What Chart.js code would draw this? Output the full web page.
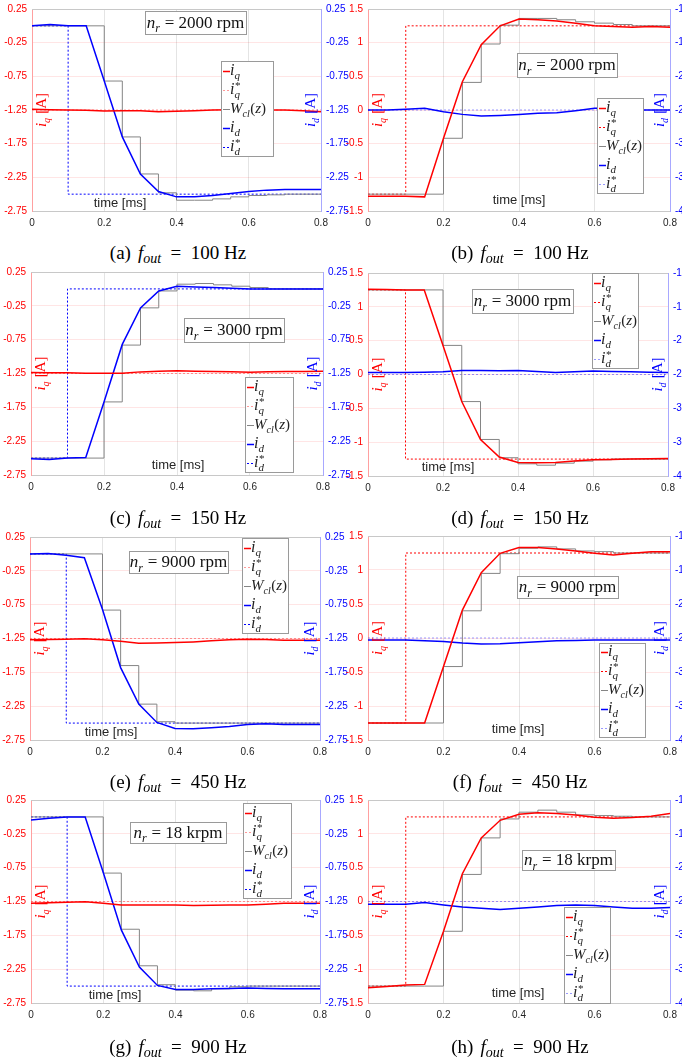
<!DOCTYPE html>
<html>
<head>
<meta charset="utf-8">
<script src="https://cdn.jsdelivr.net/npm/chart.js@4.4.1/dist/chart.umd.min.js"></script>
<style>
  html, body { margin: 0; padding: 0; background: #fff; }
  body { position: relative; width: 682px; height: 1059px; overflow: hidden; }
  canvas { position: absolute; }
  .cap { position: absolute; font-family: "Liberation Serif", serif; font-size: 19px; line-height: 20px;
         color: #000; white-space: nowrap; transform: translateX(-50%); }
  .cap sub { font-size: 14px; vertical-align: -4px; line-height: 0; }
  .cap .sp { display: inline-block; width: 7px; }
</style>
</head>
<body>
<script>
// sample instants of the controller (ms)
const timeSteps = [0, 0.05, 0.1, 0.15, 0.2, 0.25, 0.3, 0.35, 0.4, 0.45, 0.5, 0.55, 0.6, 0.65, 0.7, 0.75, 0.8];
const refTimes = [0, 0.1, 0.1, 0.8];
const timeTicks = [0, 0.2, 0.4, 0.6, 0.8];
const ticksLeftCol = [0.25, -0.25, -0.75, -1.25, -1.75, -2.25, -2.75];
const ticksIq = [1.5, 1, 0.5, 0, -0.5, -1, -1.5];
const ticksId = [-1, -1.5, -2, -2.5, -3, -3.5, -4];

// references
const iqHold = [-1.25, -1.25, -1.25, -1.25];
const iqRise = [-1.25, -1.25, 1.25, 1.25];
const iqFall = [1.25, 1.25, -1.25, -1.25];
const idHold = [-2.5, -2.5, -2.5, -2.5];
const idFall = [0, 0, -2.5, -2.5];
const idRise = [-2.5, -2.5, 0, 0];

// (a) 100 Hz, 2000 rpm, d-axis step
const aIq = [-1.24, -1.245, -1.25, -1.255, -1.265, -1.26, -1.26, -1.275, -1.27, -1.26, -1.25, -1.245, -1.245, -1.25, -1.25, -1.26, -1.275];
const aW  = [0, 0, 0, 0, -0.82, -1.65, -2.2, -2.48, -2.59, -2.59, -2.57, -2.54, -2.52, -2.51, -2.5, -2.5, -2.5];
const aId = [0, 0.02, 0, 0, -0.82, -1.65, -2.2, -2.46, -2.54, -2.54, -2.52, -2.49, -2.46, -2.44, -2.43, -2.43, -2.43];
// (b) 100 Hz, 2000 rpm, q-axis step
const bIq = [-1.28, -1.28, -1.28, -1.29, -0.42, 0.42, 0.97, 1.25, 1.35, 1.34, 1.32, 1.29, 1.25, 1.24, 1.23, 1.24, 1.23];
const bW  = [-1.25, -1.25, -1.25, -1.25, -0.42, 0.41, 0.98, 1.26, 1.36, 1.36, 1.34, 1.31, 1.29, 1.27, 1.25, 1.25, 1.25];
const bId = [-2.5, -2.5, -2.49, -2.475, -2.525, -2.565, -2.59, -2.58, -2.565, -2.55, -2.54, -2.51, -2.475, -2.47, -2.5, -2.5, -2.5];
// (c) 150 Hz, 3000 rpm
const cIq = [-1.235, -1.24, -1.24, -1.245, -1.245, -1.245, -1.226, -1.215, -1.21, -1.215, -1.22, -1.225, -1.23, -1.225, -1.22, -1.22, -1.216];
const cW  = [-2.5, -2.5, -2.5, -2.5, -1.67, -0.83, -0.28, -0.03, 0.07, 0.08, 0.06, 0.04, 0.02, 0, 0, 0, 0];
const cId = [-2.51, -2.52, -2.5, -2.49, -1.67, -0.82, -0.28, -0.03, 0.04, 0.03, 0.02, 0.01, 0, 0, 0, 0, 0];
// (d) 150 Hz, 3000 rpm
const dIq = [1.26, 1.255, 1.25, 1.25, 0.43, -0.4, -0.96, -1.22, -1.3, -1.305, -1.3, -1.28, -1.26, -1.255, -1.25, -1.245, -1.24];
const dW  = [1.25, 1.25, 1.25, 1.25, 0.43, -0.4, -0.96, -1.23, -1.32, -1.34, -1.31, -1.28, -1.26, -1.25, -1.25, -1.25, -1.25];
const dId = [-2.47, -2.47, -2.47, -2.465, -2.46, -2.44, -2.44, -2.445, -2.44, -2.455, -2.47, -2.46, -2.45, -2.455, -2.46, -2.465, -2.47];
// (e) 450 Hz, 9000 rpm
const eIq = [-1.27, -1.265, -1.26, -1.255, -1.27, -1.29, -1.32, -1.315, -1.31, -1.3, -1.285, -1.27, -1.26, -1.265, -1.275, -1.275, -1.275];
const eW  = [0, 0, 0, 0, -0.83, -1.65, -2.22, -2.48, -2.5, -2.5, -2.5, -2.5, -2.5, -2.5, -2.5, -2.5, -2.5];
const eId = [0, 0.005, -0.02, -0.055, -0.82, -1.68, -2.22, -2.49, -2.58, -2.585, -2.57, -2.55, -2.52, -2.51, -2.52, -2.52, -2.52];
// (f) 450 Hz, 9000 rpm
const fIq = [-1.25, -1.25, -1.25, -1.25, -0.42, 0.41, 0.96, 1.245, 1.33, 1.33, 1.31, 1.28, 1.245, 1.22, 1.245, 1.27, 1.27];
const fW  = [-1.25, -1.25, -1.25, -1.25, -0.42, 0.4, 0.95, 1.24, 1.32, 1.34, 1.31, 1.28, 1.27, 1.25, 1.25, 1.25, 1.25];
const fId = [-2.53, -2.53, -2.53, -2.54, -2.55, -2.575, -2.59, -2.585, -2.57, -2.555, -2.54, -2.535, -2.53, -2.53, -2.53, -2.53, -2.53];
// (g) 900 Hz, 18 krpm
const gIq = [-1.275, -1.27, -1.26, -1.255, -1.275, -1.3, -1.3, -1.3, -1.3, -1.31, -1.305, -1.3, -1.3, -1.29, -1.275, -1.275, -1.275];
const gW  = [0, 0, 0, 0, -0.83, -1.66, -2.2, -2.48, -2.56, -2.57, -2.54, -2.51, -2.5, -2.5, -2.5, -2.5, -2.5];
const gId = [-0.045, -0.02, 0, 0, -0.82, -1.67, -2.22, -2.49, -2.55, -2.55, -2.54, -2.535, -2.53, -2.535, -2.54, -2.54, -2.54];
// (h) 900 Hz, 18 krpm
const hIq = [-1.275, -1.255, -1.235, -1.225, -0.44, 0.41, 0.94, 1.2, 1.29, 1.31, 1.3, 1.28, 1.245, 1.23, 1.24, 1.26, 1.3];
const hW  = [-1.25, -1.25, -1.25, -1.25, -0.44, 0.4, 0.94, 1.22, 1.32, 1.35, 1.32, 1.28, 1.27, 1.26, 1.25, 1.25, 1.25];
const hId = [-2.54, -2.54, -2.54, -2.515, -2.55, -2.58, -2.6, -2.62, -2.6, -2.58, -2.56, -2.55, -2.56, -2.58, -2.6, -2.6, -2.59];

const panels = [
  { tag: "(a)", freq: "100", speed: "2000 rpm", col: 0, iq: aIq, iqRef: iqHold, w: aW, id: aId, idRef: idFall,
    area: [32, 321, 9, 211], nrBox: [145, 11, 101, 23], legBox: [221, 61, 52, 95], timeAt: [120, 203], capY: 253 },
  { tag: "(b)", freq: "100", speed: "2000 rpm", col: 1, iq: bIq, iqRef: iqRise, w: bW, id: bId, idRef: idHold,
    area: [368, 670, 9, 211], nrBox: [517, 53, 100, 24], legBox: [597, 98, 46, 95], timeAt: [519, 200], capY: 253 },
  { tag: "(c)", freq: "150", speed: "3000 rpm", col: 0, iq: cIq, iqRef: iqHold, w: cW, id: cId, idRef: idRise,
    area: [31, 323, 272, 475], nrBox: [184, 318, 100, 24], legBox: [245, 377, 48, 95], timeAt: [178, 465], capY: 518 },
  { tag: "(d)", freq: "150", speed: "3000 rpm", col: 1, iq: dIq, iqRef: iqFall, w: dW, id: dId, idRef: idHold,
    area: [368, 668, 273, 476], nrBox: [472, 289, 101, 24], legBox: [592, 273, 46, 95], timeAt: [448, 467], capY: 518 },
  { tag: "(e)", freq: "450", speed: "9000 rpm", col: 0, iq: eIq, iqRef: iqHold, w: eW, id: eId, idRef: idFall,
    area: [30, 320, 537, 740], nrBox: [129, 551, 99, 22], legBox: [242, 538, 46, 95], timeAt: [111, 732], capY: 782 },
  { tag: "(f)", freq: "450", speed: "9000 rpm", col: 1, iq: fIq, iqRef: iqRise, w: fW, id: fId, idRef: idHold,
    area: [368, 670, 536, 740], nrBox: [517, 576, 101, 22], legBox: [599, 643, 46, 94], timeAt: [518, 729], capY: 782 },
  { tag: "(g)", freq: "900", speed: "18 krpm", col: 0, iq: gIq, iqRef: iqHold, w: gW, id: gId, idRef: idFall,
    area: [31, 320, 800, 1003], nrBox: [130, 822, 96, 21], legBox: [243, 803, 48, 95], timeAt: [115, 995], capY: 1047 },
  { tag: "(h)", freq: "900", speed: "18 krpm", col: 1, iq: hIq, iqRef: iqRise, w: hW, id: hId, idRef: idHold,
    area: [368, 670, 800, 1003], nrBox: [522, 850, 93, 20], legBox: [564, 907, 46, 96], timeAt: [518, 993], capY: 1047 }
];

const RED = "#ff0000";
const BLUE = "#0000ff";
const FAINT_RED = "rgba(255,0,0,0.4)";
const FAINT_BLUE = "rgba(0,0,255,0.4)";
const GRAY = "#858585";
const SERIF = '"Liberation Serif", "Times New Roman", serif';

// little math text renderer: runs of {t, it} or {sub, sup}
function rich(ctx, runs, x, y, size, draw) {
  let cx = x;
  for (const r of runs) {
    if (r.t !== undefined) {
      ctx.font = `${r.it ? "italic " : ""}${size}px ${SERIF}`;
      if (draw) ctx.fillText(r.t, cx, y);
      cx += ctx.measureText(r.t).width;
    } else {
      const s = Math.round(size * 0.68);
      ctx.font = `italic ${s}px ${SERIF}`;
      let w = 0;
      if (r.sub) {
        if (draw) ctx.fillText(r.sub, cx, y + size * 0.27);
        w = ctx.measureText(r.sub).width;
      }
      if (r.sup) {
        if (draw) ctx.fillText(r.sup, cx, y - size * 0.3);
        w = Math.max(w, ctx.measureText(r.sup).width);
      }
      cx += w + 0.5;
    }
  }
  return cx - x;
}

const labelRuns = {
  iq: [{ t: "i", it: true }, { sub: "q" }],
  iqRef: [{ t: "i", it: true }, { sub: "q", sup: "*" }],
  w: [{ t: "W", it: true }, { sub: "cl" }, { t: "(" }, { t: "z", it: true }, { t: ")" }],
  id: [{ t: "i", it: true }, { sub: "d" }],
  idRef: [{ t: "i", it: true }, { sub: "d", sup: "*" }]
};

function drawAnnotations(chart, p, off) {
  const ctx = chart.ctx;
  const a = chart.chartArea;
  const ox = off[0], oy = off[1];
  const mid = (a.top + a.bottom) / 2;
  ctx.save();
  ctx.textAlign = "left";
  ctx.textBaseline = "alphabetic";

  // top frame line
  ctx.strokeStyle = "#c8c8c8";
  ctx.lineWidth = 1;
  ctx.beginPath();
  ctx.moveTo(a.left, a.top + 0.5);
  ctx.lineTo(a.right, a.top + 0.5);
  ctx.stroke();

  // axis titles, rotated, inside the plot
  const titles = [
    { runs: [...labelRuns.iq, { t: " [A]" }], x: a.left + 9, color: RED },
    { runs: [...labelRuns.id, { t: " [A]" }], x: a.right - 11, color: BLUE }
  ];
  titles.forEach(tt => {
    ctx.save();
    ctx.fillStyle = tt.color;
    ctx.translate(tt.x, mid);
    ctx.rotate(-Math.PI / 2);
    const w = rich(ctx, tt.runs, 0, 0, 15, false);
    rich(ctx, tt.runs, -w / 2, 5, 15, true);
    ctx.restore();
  });

  // time label
  ctx.fillStyle = "#262626";
  ctx.font = '13px "Liberation Sans", Arial, sans-serif';
  ctx.textAlign = "center";
  ctx.textBaseline = "middle";
  ctx.fillText("time [ms]", p.timeAt[0] - ox, p.timeAt[1] - oy);
  ctx.textAlign = "left";
  ctx.textBaseline = "alphabetic";

  // speed box
  const [nx, ny, nw, nh] = p.nrBox;
  const bx = nx - ox, by = ny - oy;
  ctx.fillStyle = "#fff";
  ctx.fillRect(bx, by, nw, nh);
  ctx.strokeStyle = "#9a9a9a";
  ctx.strokeRect(bx + 0.5, by + 0.5, nw, nh);
  const nrRuns = [{ t: "n", it: true }, { sub: "r" }, { t: " = " + p.speed }];
  ctx.fillStyle = "#111";
  const tw = rich(ctx, nrRuns, 0, 0, 17, false);
  rich(ctx, nrRuns, bx + (nw - tw) / 2, by + nh / 2 + 5, 17, true);

  // legend
  const [lx0, ly0, lw, lh] = p.legBox;
  const lx = lx0 - ox, ly = ly0 - oy;
  ctx.fillStyle = "#fff";
  ctx.fillRect(lx, ly, lw, lh);
  ctx.strokeStyle = "#9a9a9a";
  ctx.strokeRect(lx + 0.5, ly + 0.5, lw, lh);
  const rowH = lh / 5;
  const entries = [
    { key: "iq", color: RED, dash: [], width: 1.5 },
    { key: "iqRef", color: p.col === 0 ? FAINT_RED : RED, dash: [2, 2], width: 1 },
    { key: "w", color: GRAY, dash: [], width: 1 },
    { key: "id", color: BLUE, dash: [], width: 1.5 },
    { key: "idRef", color: p.col === 1 ? FAINT_BLUE : BLUE, dash: [2, 2], width: 1 }
  ];
  entries.forEach((e, k) => {
    const yc = Math.round(ly + rowH * (k + 0.5)) + 0.5;
    ctx.strokeStyle = e.color;
    ctx.lineWidth = e.width;
    ctx.setLineDash(e.dash);
    ctx.beginPath();
    ctx.moveTo(lx + 2, yc);
    ctx.lineTo(lx + 9, yc);
    ctx.stroke();
    ctx.setLineDash([]);
    ctx.fillStyle = "#222";
    rich(ctx, labelRuns[e.key], lx + 9, yc + 3, e.key === "w" ? 15 : 16, true);
  });
  ctx.restore();
}

function makePanel(p) {
  const [L, R, T, B] = p.area;
  const cl = p.col === 0 ? 0 : 328;
  const cw = p.col === 0 ? 352 : 400;
  const ct = T - 12;
  const ch = (B - T) + 12 + 26;

  const canvas = document.createElement("canvas");
  canvas.width = cw;
  canvas.height = ch;
  canvas.style.left = cl + "px";
  canvas.style.top = ct + "px";
  canvas.style.width = cw + "px";
  canvas.style.height = ch + "px";
  document.body.appendChild(canvas);

  const leftTicks = p.col === 0 ? ticksLeftCol : ticksIq;
  const rightTicks = p.col === 0 ? ticksLeftCol : ticksId;
  const pts = (xs, ys) => xs.map((x, i) => ({ x, y: ys[i] }));
  const tickFont = { family: '"Liberation Sans", Arial, sans-serif', size: 10 };
  const setTicks = vals => scale => { scale.ticks = vals.map(v => ({ value: v })); };

  new Chart(canvas, {
    type: "line",
    data: {
      datasets: [
        { label: "iq", data: pts(timeSteps, p.iq), yAxisID: "yL", borderColor: RED, borderWidth: 1.5, order: 1 },
        { label: "iq*", data: pts(refTimes, p.iqRef), yAxisID: "yL", borderColor: p.col === 0 ? FAINT_RED : RED,
          borderDash: [2, 2], borderWidth: 1, order: 4 },
        // zero-order hold: each value is kept until the next sample
        { label: "Wcl", data: pts(timeSteps, p.w), yAxisID: p.col === 0 ? "yR" : "yL", stepped: "before",
          borderColor: GRAY, borderWidth: 1, order: 3 },
        { label: "id", data: pts(timeSteps, p.id), yAxisID: "yR", borderColor: BLUE, borderWidth: 1.5, order: 2 },
        { label: "id*", data: pts(refTimes, p.idRef), yAxisID: "yR", borderColor: p.col === 1 ? FAINT_BLUE : BLUE,
          borderDash: [2, 2], borderWidth: 1, order: 4 }
      ]
    },
    options: {
      responsive: false,
      animation: false,
      devicePixelRatio: 1,
      events: [],
      layout: { padding: { top: T - ct, left: 0, right: 0, bottom: 0 } },
      elements: { point: { radius: 0 }, line: { tension: 0, fill: false } },
      plugins: { legend: { display: false }, tooltip: { enabled: false } },
      scales: {
        x: {
          type: "linear", min: 0, max: 0.8,
          afterBuildTicks: setTicks(timeTicks),
          afterFit: s => { s.height = ct + ch - B; },
          ticks: { callback: v => String(v), color: "#262626", font: tickFont, padding: 6, maxRotation: 0, autoSkip: false },
          grid: { color: "#e4e4e4", drawTicks: false },
          border: { color: "#c8c8c8" }
        },
        yL: {
          type: "linear", position: "left",
          min: leftTicks[leftTicks.length - 1], max: leftTicks[0],
          afterBuildTicks: setTicks(leftTicks),
          afterFit: s => { s.width = L - cl; },
          ticks: { callback: v => String(v), color: RED, font: tickFont, padding: 5, autoSkip: false },
          grid: { color: "rgba(255,0,0,0.1)", drawTicks: false },
          border: { color: "#ffa0a0" }
        },
        yR: {
          type: "linear", position: "right",
          min: rightTicks[rightTicks.length - 1], max: rightTicks[0],
          afterBuildTicks: setTicks(rightTicks),
          afterFit: s => { s.width = cl + cw - R; },
          ticks: { callback: v => String(v), color: BLUE, font: tickFont, padding: 5, autoSkip: false },
          grid: { drawOnChartArea: false, drawTicks: false },
          border: { color: "#a8a8ff" }
        }
      }
    },
    plugins: [{ id: "annot", afterDraw: chart => drawAnnotations(chart, p, [cl, ct]) }]
  });

  const cap = document.createElement("div");
  cap.className = "cap";
  cap.style.left = (p.col === 0 ? 178 : 520) + "px";
  cap.style.top = (p.capY - 10) + "px";
  cap.innerHTML = `${p.tag}<span class="sp"></span><i>f</i><sub><i>out</i></sub>&ensp;=&ensp;${p.freq} Hz`;
  document.body.appendChild(cap);
}

panels.forEach(makePanel);
</script>
</body>
</html>
